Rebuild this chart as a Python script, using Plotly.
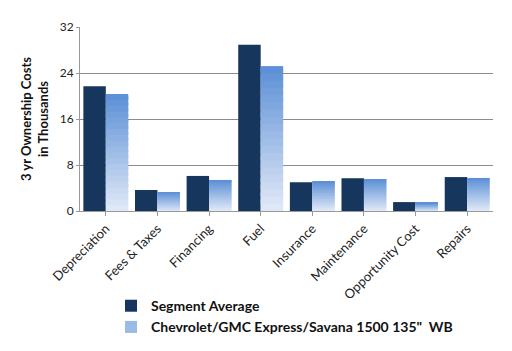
import plotly.graph_objects as go

categories = ["Depreciation", "Fees & Taxes", "Financing", "Fuel", "Insurance",
              "Maintenance", "Opportunity Cost", "Repairs"]
segment_avg = [21.7, 3.65, 6.1, 28.9, 5.0, 5.7, 1.55, 5.9]
chevrolet = [20.35, 3.3, 5.4, 25.2, 5.2, 5.55, 1.4, 5.75]
y_ticks = [0, 8, 16, 24, 32]

seg_name = "Segment Average"
chev_name = "Chevrolet/GMC Express/Savana 1500 135\"  WB"

FONT = "Lato, Open Sans, sans-serif"
bw = 0.435
x = list(range(len(categories)))

fig = go.Figure()
fig.add_trace(go.Bar(
    x=x, y=segment_avg, width=bw, offset=-bw, name=seg_name,
    marker=dict(color="#17365d", line=dict(width=0)), legendrank=1))

# gradient for the second series: stacked slices, light at bottom, blue at top
N = 20
top = (0x5a, 0x8e, 0xd6)
bot = (0xe2, 0xea, 0xf7)
for i in range(N):
    t = (i + 0.5) / N
    c = tuple(round(bot[k] + (top[k] - bot[k]) * t) for k in range(3))
    col = "rgb(%d,%d,%d)" % c
    frac = 1.0 / N if i == N - 1 else 1.6 / N
    fig.add_trace(go.Bar(
        x=x, y=[v * frac for v in chevrolet], base=[v * i / N for v in chevrolet],
        width=bw, offset=0, name=chev_name,
        marker=dict(color=col, line=dict(width=0)),
        showlegend=(i == N // 2), legendrank=2, hoverinfo="skip"))

fig.update_layout(
    width=512, height=351, barmode="overlay",
    margin=dict(l=80, r=19, t=27, b=140, autoexpand=False),
    paper_bgcolor="white", plot_bgcolor="white",
    font=dict(family=FONT, size=12, color="#222"),
    xaxis=dict(tickmode="array", tickvals=x, ticktext=categories, tickangle=-45,
               range=[-0.5, len(categories) - 0.5], showgrid=False,
               showline=True, linecolor="#999", linewidth=1,
               ticks="outside", ticklen=4, tickcolor="#999",
               tickfont=dict(size=13, color="#222", family=FONT)),
    yaxis=dict(range=[0, 32], tickvals=y_ticks, showgrid=True, gridcolor="#8c8c8c",
               gridwidth=1, showline=True, linecolor="#999", zeroline=False,
               ticks="outside", ticklen=3, tickcolor="#999",
               tickfont=dict(size=12, color="#222", family=FONT),
               title=dict(text="<b>3 yr Ownership Costs<br>in Thousands</b>",
                          font=dict(size=13, color="#111", family=FONT), standoff=8)),
    legend=dict(x=0.075, y=-0.43, xanchor="left", yanchor="top",
                font=dict(size=14, color="#111", family=FONT),
                traceorder="normal", itemwidth=30, tracegroupgap=11,
                bgcolor="rgba(0,0,0,0)"),
    showlegend=True,
)
fig.for_each_trace(lambda tr: tr.update(name="<b>" + tr.name + "</b>"))

fig.write_html("out.html")
